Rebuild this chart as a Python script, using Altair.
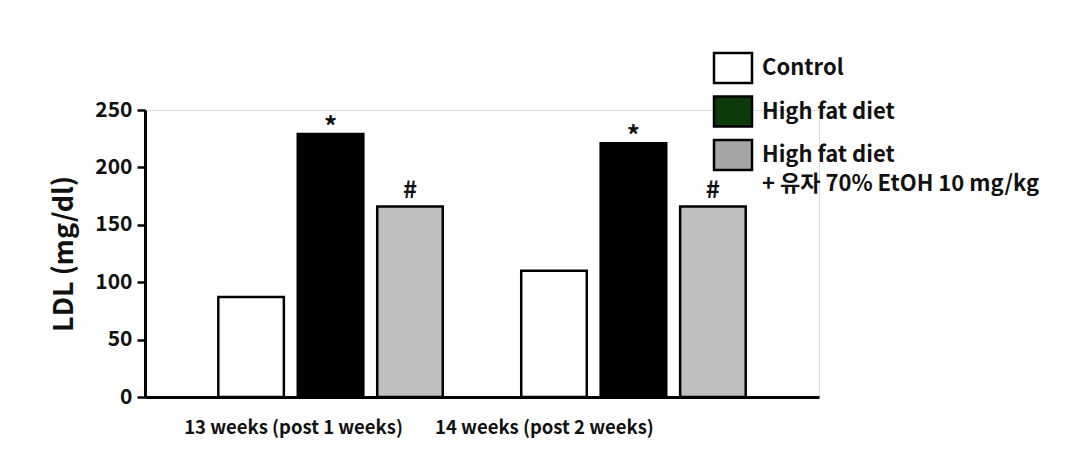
import altair as alt
import pandas as pd

weeks = ["13 weeks (post 1 weeks)", "14 weeks (post 2 weeks)"]
groups = ["Control", "High fat diet", "High fat diet + 유자 70% EtOH 10 mg/kg"]
values_w13 = [87, 229, 166]
values_w14 = [110, 221, 166]
marks_text = ["", "*", "#"]
bar_colors = ["#ffffff", "#000000", "#bfbfbf"]

legend_labels = ["Control", "High fat diet", "High fat diet"]
legend_sublabels = ["", "", "+ 유자 70% EtOH 10 mg/kg"]
legend_colors = ["#ffffff", "#0b3a0b", "#a6a6a6"]
y_ticks = [0, 50, 100, 150, 200, 250]

FONT = "Noto Sans CJK KR"

rows = []
for w, vals in zip(weeks, [values_w13, values_w14]):
    for g, v, m in zip(groups, vals, marks_text):
        rows.append({"week": w, "group": g, "value": v, "mark": m})
df = pd.DataFrame(rows)

leg = pd.DataFrame({
    "item": [f"{i}" for i in range(len(legend_labels))],
    "label": legend_labels,
    "sub": legend_sublabels,
    "color": legend_colors,
})

x_enc = alt.X(
    "week:N",
    sort=weeks,
    title=None,
    scale=alt.Scale(paddingInner=0.259, paddingOuter=0.242),
    axis=alt.Axis(
        labelAngle=0,
        ticks=False,
        labelPadding=21,
        labelLimit=0,
        labelFontSize=18.5,
        labelFont=FONT,
        labelFontWeight="bold",
        labelColor="#111111",
        labelOffset={"condition": {"test": f"datum.value === '{weeks[0]}'", "value": -37}, "value": -89},
        domainWidth=3,
        domainColor="black",
    ),
)
xoff_enc = alt.XOffset("group:N", sort=groups, scale=alt.Scale(paddingInner=0.175, paddingOuter=0))
y_scale = alt.Scale(domain=[0, 250], nice=False)

y_axis = alt.Axis(
    values=y_ticks,
    grid=False,
    tickSize=8,
    tickWidth=2.5,
    tickColor="black",
    domainWidth=3,
    domainColor="black",
    labelFontSize=21,
    labelFont=FONT,
    labelFontWeight="bold",
    labelColor="#111111",
    labelPadding=5,
    titleFontSize=27,
    titleFont=FONT,
    titleFontWeight="bold",
    titleColor="#111111",
    titlePadding=16,
)

bars = alt.Chart(df).mark_bar(stroke="black", strokeWidth=2.5).encode(
    x=x_enc,
    xOffset=xoff_enc,
    y=alt.Y("value:Q", scale=y_scale, title="LDL (mg/dl)", axis=y_axis),
    fill=alt.Fill("group:N", sort=groups, scale=alt.Scale(domain=groups, range=bar_colors), legend=None),
)

star = alt.Chart(df).transform_filter(alt.datum.mark == "*").mark_text(
    fontSize=26, font=FONT, fontWeight="bold", baseline="alphabetic", dy=2, color="#111111"
).encode(x=x_enc, xOffset=xoff_enc, y=alt.Y("value:Q", scale=y_scale, title="LDL (mg/dl)", axis=y_axis), text="mark:N")

hashm = alt.Chart(df).transform_filter(alt.datum.mark == "#").mark_text(
    fontSize=24, font=FONT, fontWeight="bold", baseline="alphabetic", dy=-8, color="#111111"
).encode(x=x_enc, xOffset=xoff_enc, y=alt.Y("value:Q", scale=y_scale, title="LDL (mg/dl)", axis=y_axis), text="mark:N")

main = alt.layer(bars, star, hashm)

leg_y = alt.Y(
    "item:N",
    sort=list(leg["item"]),
    axis=None,
    scale=alt.Scale(range=[-57, 60], paddingInner=0.31, paddingOuter=0),
)

leg_box = alt.Chart(leg).mark_rect(stroke="black", strokeWidth=2.5).encode(
    x=alt.value(569),
    x2=alt.value(607),
    y=leg_y,
    fill=alt.Fill("color:N", scale=None, legend=None),
)
leg_text = alt.Chart(leg).mark_text(
    align="left", baseline="middle", fontSize=22, font=FONT, fontWeight="bold", color="#111111"
).encode(x=alt.value(617), y=leg_y, text="label:N")
leg_sub = alt.Chart(leg).mark_text(
    align="left", baseline="middle", fontSize=22, font=FONT, fontWeight="bold", color="#111111", dy=29
).encode(x=alt.value(617), y=leg_y, text="sub:N")

legend_layer = alt.layer(leg_box, leg_text, leg_sub)

chart = alt.layer(main, legend_layer).resolve_scale(y="independent").properties(
    width=674,
    height=287,
    autosize=alt.AutoSizeParams(type="none"),
    padding={"left": 145, "top": 110, "right": 264, "bottom": 62},
).configure_view(strokeWidth=0, stroke="transparent").configure(background="white")

chart.save("out.html", embed_options={"renderer": "svg", "actions": False})
